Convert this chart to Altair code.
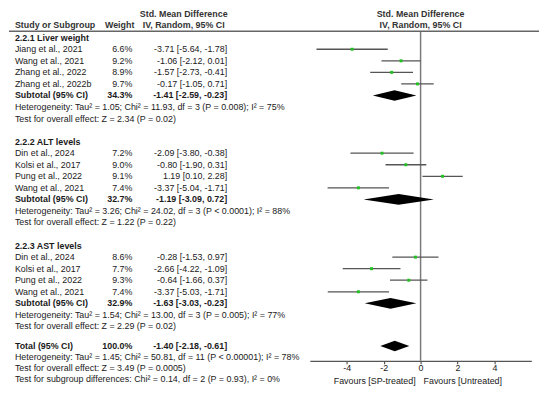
import altair as alt
import pandas as pd

# ---------------- data ----------------
groups = ["2.2.1 Liver weight", "2.2.2 ALT levels", "2.2.3 AST levels"]
studies = [
    ["Jiang et al., 2021", "Wang et al., 2021", "Zhang et al., 2022", "Zhang et al., 2022b"],
    ["Din et al., 2024", "Kolsi et al., 2017", "Pung et al., 2022", "Wang et al., 2021"],
    ["Din et al., 2024", "Kolsi et al., 2017", "Pung et al., 2022", "Wang et al., 2021"],
]
weights = [
    ["6.6%", "9.2%", "8.9%", "9.7%"],
    ["7.2%", "9.0%", "9.1%", "7.4%"],
    ["8.6%", "7.7%", "9.3%", "7.4%"],
]
smd = [
    [-3.71, -1.06, -1.57, -0.17],
    [-2.09, -0.80, 1.19, -3.37],
    [-0.28, -2.66, -0.64, -3.37],
]
ci_lo = [
    [-5.64, -2.12, -2.73, -1.05],
    [-3.80, -1.90, 0.10, -5.04],
    [-1.53, -4.22, -1.66, -5.03],
]
ci_hi = [
    [-1.78, 0.01, -0.41, 0.71],
    [-0.38, 0.31, 2.28, -1.71],
    [0.97, -1.09, 0.37, -1.71],
]
sub_weight = ["34.3%", "32.7%", "32.9%"]
sub_smd = [-1.41, -1.19, -1.63]
sub_lo = [-2.59, -3.09, -3.03]
sub_hi = [-0.23, 0.72, -0.23]
sub_het = [
    "Heterogeneity: Tau² = 1.05; Chi² = 11.93, df = 3 (P = 0.008); I² = 75%",
    "Heterogeneity: Tau² = 3.26; Chi² = 24.02, df = 3 (P < 0.0001); I² = 88%",
    "Heterogeneity: Tau² = 1.54; Chi² = 13.00, df = 3 (P = 0.005); I² = 77%",
]
sub_test = [
    "Test for overall effect: Z = 2.34 (P = 0.02)",
    "Test for overall effect: Z = 1.22 (P = 0.22)",
    "Test for overall effect: Z = 2.29 (P = 0.02)",
]
total_weight = "100.0%"
total_smd = -1.40
total_lo = -2.18
total_hi = -0.61
total_het = "Heterogeneity: Tau² = 1.45; Chi² = 50.81, df = 11 (P < 0.00001); I² = 78%"
total_test = "Test for overall effect: Z = 3.49 (P = 0.0005)"
subgroup_test = "Test for subgroup differences: Chi² = 0.14, df = 2 (P = 0.93), I² = 0%"
axis_ticks = [-4, -2, 0, 2, 4]
favours_left = "Favours [SP-treated]"
favours_right = "Favours [Untreated]"

# ---------------- tables ----------------
def fmt(e, l, h):
    return f"{e:.2f} [{l:.2f}, {h:.2f}]"

study_rows, left_reg, left_bold, w_bold, ci_bold, diamonds = [], [], [], [], [], []
for g, name in enumerate(groups):
    base = 9 * g
    left_bold.append({"row": base, "t": name})
    for i in range(4):
        r = base + 1 + i
        study_rows.append({"row": r, "name": studies[g][i], "w": weights[g][i],
                           "ci": fmt(smd[g][i], ci_lo[g][i], ci_hi[g][i]),
                           "smd": smd[g][i], "lo": ci_lo[g][i], "hi": ci_hi[g][i]})
        left_reg.append({"row": r, "t": studies[g][i]})
    left_bold.append({"row": base + 5, "t": "Subtotal (95% CI)"})
    w_bold.append({"row": base + 5, "t": sub_weight[g]})
    ci_bold.append({"row": base + 5, "t": fmt(sub_smd[g], sub_lo[g], sub_hi[g])})
    diamonds.append((g, base + 5, sub_lo[g], sub_smd[g], sub_hi[g]))
    left_reg.append({"row": base + 6, "t": sub_het[g]})
    left_reg.append({"row": base + 7, "t": sub_test[g]})

# overall block (slightly tighter line spacing than the subgroup blocks)
TOT = 26.7
left_bold.append({"row": TOT, "t": "Total (95% CI)"})
w_bold.append({"row": TOT, "t": total_weight})
ci_bold.append({"row": TOT, "t": fmt(total_smd, total_lo, total_hi)})
diamonds.append((3, TOT, total_lo, total_smd, total_hi))
left_reg.append({"row": TOT + 0.98, "t": total_het})
left_reg.append({"row": TOT + 1.93, "t": total_test})
left_reg.append({"row": TOT + 2.88, "t": subgroup_test})

HALF = 0.46
dia_pts = []
for d, r, l, e, h in diamonds:
    for x, s in ((l, 0.0), (e, 1.0), (h, 0.0)):
        dia_pts.append({"id": d, "x": x, "y1": r - HALF * s, "y2": r + HALF * s})

study_df = pd.DataFrame(study_rows)
left_reg_df = pd.DataFrame(left_reg)
left_bold_df = pd.DataFrame(left_bold)
w_bold_df = pd.DataFrame(w_bold)
ci_bold_df = pd.DataFrame(ci_bold)
dia_df = pd.DataFrame(dia_pts)

# ---------------- styling ----------------
FONT = "Liberation Sans"
FS = 9
TXT = "#1a1a1a"
W, H = 540, 355

xs = alt.Scale(domain=[-6, 6], range=[304.8, 529.2], nice=False, zero=False)
xa = alt.Axis(values=axis_ticks, title=None, grid=False, domainColor="#555555",
              domainWidth=1.3, tickColor="#555555", tickSize=3, tickWidth=1.2,
              labelFontSize=9, labelFont=FONT, labelColor=TXT, labelPadding=0,
              labelExpr="replace(datum.label, '\u2212', '-')")
ys = alt.Scale(domain=[-2.359, 27.983], reverse=True, nice=False, zero=False)


def X(field):
    return alt.X(field, type="quantitative", scale=xs, axis=xa)


def Y(field="row"):
    return alt.Y(field, type="quantitative", scale=ys, axis=None)


def txt(df, x, align, bold=False):
    return alt.Chart(df).mark_text(
        align=align, baseline="middle", font=FONT, fontSize=FS, color=TXT,
        fontWeight="bold" if bold else "normal"
    ).encode(x=alt.value(x), y=Y(), text="t:N")


layers = []
layers.append(txt(left_reg_df, 6, "left"))
layers.append(txt(left_bold_df, 6, "left", True))
layers.append(alt.Chart(study_df).mark_text(align="right", baseline="middle", font=FONT,
              fontSize=FS, color=TXT).encode(x=alt.value(125), y=Y(), text="w:N"))
layers.append(txt(w_bold_df, 125, "right", True))
layers.append(alt.Chart(study_df).mark_text(align="right", baseline="middle", font=FONT,
              fontSize=FS, color=TXT).encode(x=alt.value(221), y=Y(), text="ci:N"))
layers.append(txt(ci_bold_df, 221, "right", True))

# zero line
layers.append(alt.Chart(pd.DataFrame({"z": [0]})).mark_rule(color="#7a7a7a", strokeWidth=1.5)
              .encode(x=X("z"), y=alt.value(21), y2=alt.value(H)))
# header underline
layers.append(alt.Chart(pd.DataFrame({"z": [0]})).mark_rule(color="#666666", strokeWidth=1.5)
              .encode(x=alt.value(0), x2=alt.value(537), y=alt.value(21)))
# CI whiskers
layers.append(alt.Chart(study_df).mark_rule(color="#555555", strokeWidth=1.3)
              .encode(x=X("lo"), x2="hi", y=Y()))
# point estimates
layers.append(alt.Chart(study_df).mark_square(color="#22c022", size=9, opacity=1)
              .encode(x=X("smd"), y=Y()))
# diamonds
layers.append(alt.Chart(dia_df).mark_area(color="black", orient="vertical", opacity=1)
              .encode(x=X("x"), y=Y("y1"), y2="y2", detail="id:N"))

# headers
hdr_left = pd.DataFrame({"t": ["Study or Subgroup"]})
hdr_w = pd.DataFrame({"t": ["Weight"]})
hdr_smd1 = pd.DataFrame({"t": ["Std. Mean Difference"], "z": [0]})
hdr_smd2 = pd.DataFrame({"t": ["IV, Random, 95% CI"], "z": [0]})


def htxt(df, x, y, align):
    return alt.Chart(df).mark_text(align=align, baseline="middle", font=FONT, fontSize=FS,
                                   color="#333333", fontWeight="bold").encode(
        x=alt.value(x), y=alt.value(y), text="t:N")


layers.append(htxt(hdr_left, 6, 15, "left"))
layers.append(htxt(hdr_w, 127, 15, "right"))
layers.append(htxt(hdr_smd1, 177, 4, "center"))
layers.append(htxt(hdr_smd2, 177, 15, "center"))
for df, y in ((hdr_smd1, 4), (hdr_smd2, 15)):
    layers.append(alt.Chart(df).mark_text(align="center", baseline="middle", font=FONT,
                  fontSize=FS, color="#333333", fontWeight="bold")
                  .encode(x=X("z"), y=alt.value(y), text="t:N"))

fav = pd.DataFrame({"t": [favours_left, favours_right], "z": [0, 0]})
layers.append(alt.Chart(fav.iloc[[0]]).mark_text(align="right", baseline="middle", font=FONT,
              fontSize=FS, color=TXT, dx=-5).encode(x=X("z"), y=alt.value(375), text="t:N"))
layers.append(alt.Chart(fav.iloc[[1]]).mark_text(align="left", baseline="middle", font=FONT,
              fontSize=FS, color=TXT, dx=3).encode(x=X("z"), y=alt.value(375), text="t:N"))

chart = alt.layer(*layers).properties(
    width=W, height=H, padding={"left": 0, "top": 0, "right": 0, "bottom": 0}
).configure_view(stroke=None)

chart.save("out.html", embed_options={"renderer": "svg", "actions": False})
